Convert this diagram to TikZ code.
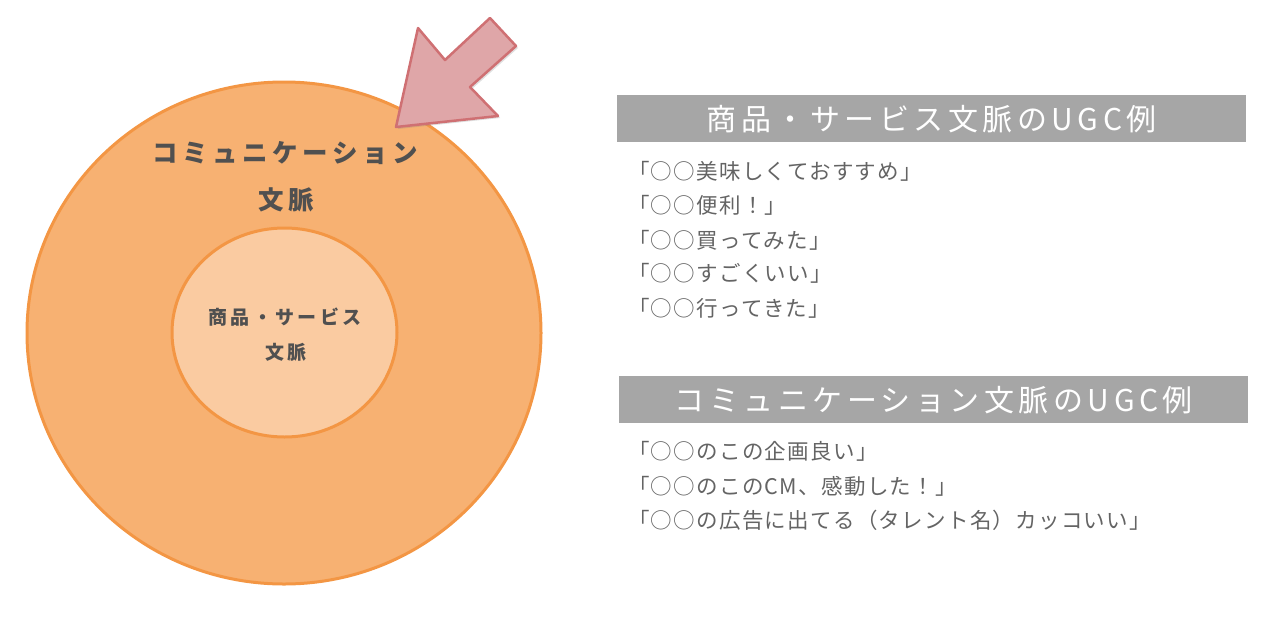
\documentclass[tikz,border=0pt]{standalone}
\usepackage{fontspec}
\setmainfont{Noto Sans CJK JP}
\newfontfamily\jp[LetterSpace=6]{Noto Sans CJK JP}
\newfontfamily\jpsp[LetterSpace=18]{Noto Sans CJK JP}
\newfontfamily\jphead[LetterSpace=15]{Noto Sans CJK JP}
\usetikzlibrary{shapes.geometric,shadows}
\definecolor{outerfill}{RGB}{247,177,114}
\definecolor{outerline}{RGB}{243,150,68}
\definecolor{innerfill}{RGB}{250,203,161}
\definecolor{labeltext}{RGB}{80,80,80}
\definecolor{headgray}{RGB}{166,166,166}
\definecolor{listtext}{RGB}{100,100,100}
\definecolor{arrowfill}{RGB}{223,166,168}
\definecolor{arrowline}{RGB}{207,112,115}
\tikzset{
  ring/.style={ellipse, draw=outerline, line width=3pt, inner sep=0pt},
  circlabel/.style={text=labeltext, inner sep=0pt, font=\jpsp\bfseries},
  headbox/.style={fill=headgray, anchor=north west, minimum width=629pt, minimum height=47pt, inner sep=0pt, text=white, font=\fontsize{30}{34}\selectfont\jphead},
  listitem/.style={anchor=west, inner sep=0pt, text=listtext, font=\fontsize{21.5}{25}\selectfont\jp},
  pointer/.style={fill=arrowfill, draw=arrowline, line width=2.5pt, line join=round, drop shadow={opacity=0.25, shadow xshift=2pt, shadow yshift=-2pt}}
}
\begin{document}
\begin{tikzpicture}[x=1pt, y=-1pt]
\useasboundingbox (0,0) rectangle (1280,619);
% circles
\node[ring, fill=outerfill, minimum width=514pt, minimum height=502pt] (outer) at (284,333) {};
\node[ring, fill=innerfill, minimum width=225pt, minimum height=209pt] (inner) at (284.5,332.5) {};
% circle labels
\node[circlabel, font=\fontsize{25.5}{30}\selectfont\jpsp\bfseries] (comm1) at (285,153) {コミュニケーション};
\node[circlabel, font=\fontsize{25.5}{30}\selectfont\jpsp\bfseries] (comm2) at (286,200) {文脈};
\node[circlabel, font=\fontsize{19}{24}\selectfont\jpsp\bfseries] (prod1) at (285,317) {商品・サービス};
\node[circlabel, font=\fontsize{19}{24}\selectfont\jpsp\bfseries] (prod2) at (286,352) {文脈};
% arrow
\path[pointer] (396,127) -- (418,28) -- (445,60) -- (490,18) -- (516,46) -- (470,87) -- (498,116) -- cycle;
% headers
\node[headbox] (h1) at (617,95) {商品・サービス文脈のUGC例};
\node[headbox] (h2) at (619,376) {コミュニケーション文脈のUGC例};
% lists
\node[listitem] (a1) at (628,171) {「○○美味しくておすすめ」};
\node[listitem] (a2) at (628,205) {「○○便利！」};
\node[listitem] (a3) at (628,240) {「○○買ってみた」};
\node[listitem] (a4) at (628,273) {「○○すごくいい」};
\node[listitem] (a5) at (628,308) {「○○行ってきた」};
\node[listitem] (b1) at (628,451) {「○○のこの企画良い」};
\node[listitem] (b2) at (628,486) {「○○のこのCM、感動した！」};
\node[listitem] (b3) at (628,520) {「○○の広告に出てる（タレント名）カッコいい」};
\end{tikzpicture}
\end{document}
